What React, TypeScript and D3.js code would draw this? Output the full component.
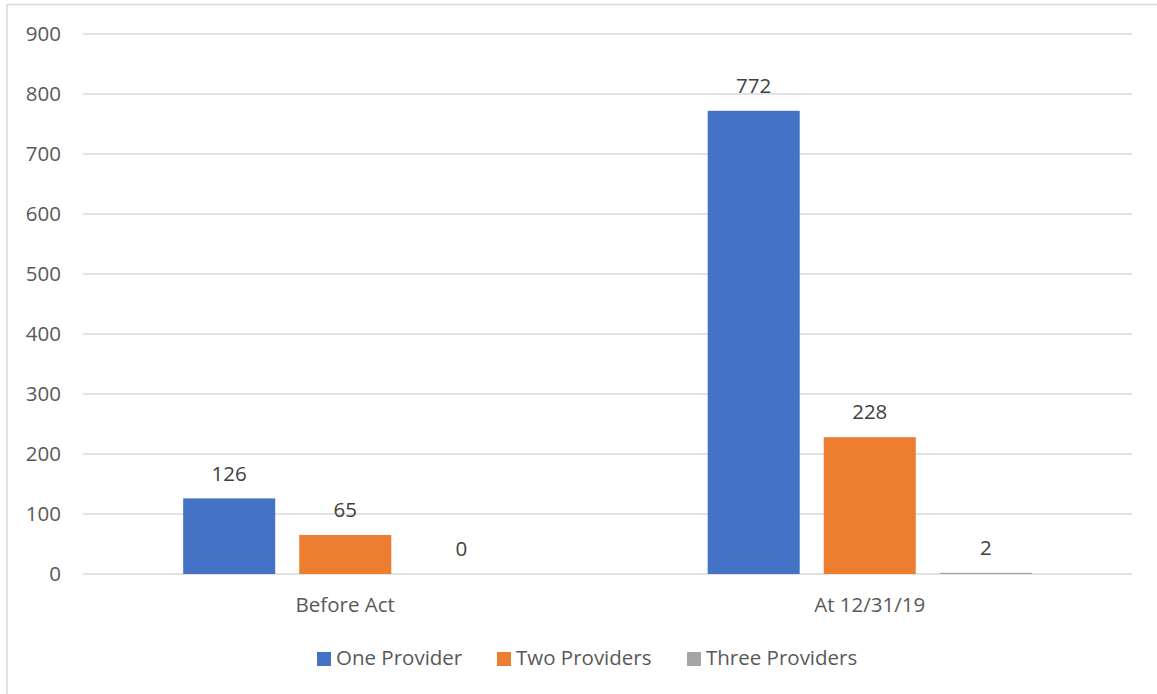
import React from "react";
import * as d3 from "d3";

const categories = ["Before Act", "At 12/31/19"];
const seriesNames = ["One Provider", "Two Providers", "Three Providers"];
const oneProvider = [126, 772];
const twoProviders = [65, 228];
const threeProviders = [0, 2];
const yTicks = [0, 100, 200, 300, 400, 500, 600, 700, 800, 900];
const colors = ["#4472C4", "#ED7D31", "#A5A5A5"];

const W = 1157;
const H = 694;
const FONT = "'Open Sans', 'DejaVu Sans', sans-serif";
const FS = 20.5;

export default function App() {
  const values = [oneProvider, twoProviders, threeProviders];
  const left = 83, right = 1132, top = 34, bottom = 574;
  const y = d3.scaleLinear().domain([0, 900]).range([bottom, top]);
  const x0 = d3.scaleBand<string>().domain(categories).range([left, right]).paddingInner(0.382).paddingOuter(0.191);
  const x1 = d3.scaleBand<string>().domain(seriesNames).range([0, x0.bandwidth()]).paddingInner(0.207).paddingOuter(0);

  const legendItems = [
    { name: seriesNames[0], x: 317 },
    { name: seriesNames[1], x: 497 },
    { name: seriesNames[2], x: 687 },
  ];

  return (
    <svg width={W} height={H} style={{ position: "absolute", left: 0, top: 0, background: "#fff" }}>
      <rect x={0} y={0} width={W} height={H} fill="#fff" />
      {/* chart border */}
      <line x1={7} x2={7} y1={4} y2={H} stroke="#D9D9D9" strokeWidth={1.5} />
      <line x1={7} x2={W} y1={4.5} y2={4.5} stroke="#D9D9D9" strokeWidth={1.5} />
      {/* gridlines */}
      {yTicks.map((t) => (
        <g key={t}>
          <line x1={left} x2={right} y1={y(t)} y2={y(t)} stroke="#D9D9D9" strokeWidth={1.3} />
          <text x={61} y={y(t)} dy="0.35em" textAnchor="end" fontFamily={FONT} fontSize={FS} fill="#595959">
            {t}
          </text>
        </g>
      ))}
      {/* bars */}
      {categories.map((c, ci) => (
        <g key={c} transform={`translate(${x0(c)},0)`}>
          {seriesNames.map((s, si) => {
            const v = values[si][ci];
            const bx = x1(s)!;
            const by = y(v);
            return (
              <g key={s}>
                <rect x={bx} y={by} width={x1.bandwidth()} height={bottom - by} fill={colors[si]} />
                <text x={bx + x1.bandwidth() / 2} y={by - 25} dy="0.35em" textAnchor="middle" fontFamily={FONT} fontSize={FS} fill="#404040">
                  {v}
                </text>
              </g>
            );
          })}
        </g>
      ))}
      {/* category labels */}
      {categories.map((c) => (
        <text key={c} x={x0(c)! + x0.bandwidth() / 2} y={605} dy="0.35em" textAnchor="middle" fontFamily={FONT} fontSize={FS} fill="#595959">
          {c}
        </text>
      ))}
      {/* legend */}
      {legendItems.map((l, i) => (
        <g key={l.name}>
          <rect x={l.x} y={652} width={14} height={14} fill={colors[i]} />
          <text x={l.x + 19} y={658} dy="0.35em" fontFamily={FONT} fontSize={20.5} fill="#595959">
            {l.name}
          </text>
        </g>
      ))}
    </svg>
  );
}
